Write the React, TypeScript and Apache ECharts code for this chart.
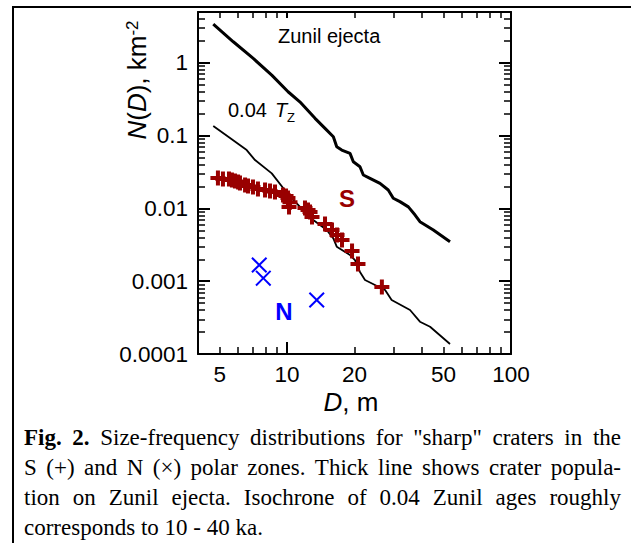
import React, { useEffect, useRef } from 'react';
import * as echarts from 'echarts';

// ---- data ----
const zunilD = [4.68, 5.75, 7.06, 8.54, 10.1, 11.4, 13.33, 14.77, 16.09, 16.66, 17.54, 19.1, 19.76, 21.16, 21.9, 23.46, 26.0, 28.3, 29.8, 31.9, 34.8, 37.3, 39.2, 45.0, 53.4];
const zunilN = [3.41, 1.95, 1.15, 0.679, 0.401, 0.292, 0.173, 0.126, 0.0966, 0.0704, 0.0634, 0.0571, 0.0438, 0.0374, 0.0288, 0.0259, 0.0221, 0.0179, 0.0138, 0.0124, 0.0105, 0.00812, 0.00657, 0.00505, 0.00349];

const isoD = [4.68, 5.56, 6.6, 7.19, 8.54, 9.62, 10.3, 11.04, 12.02, 13.09, 15.03, 16.09, 16.66, 19.1, 20.1, 21.16, 22.28, 25.6, 27.4, 29.3, 35.4, 39.2, 43.5, 53.4];
const isoN = [0.1355, 0.0927, 0.0634, 0.0462, 0.0303, 0.0189, 0.0145, 0.01175, 0.00892, 0.00694, 0.00505, 0.00388, 0.00298, 0.00229, 0.00195, 0.00134, 0.00104, 0.000841, 0.000757, 0.000552, 0.000402, 0.000278, 0.000237, 0.000137];

const southD = [4.91, 5.17, 5.5, 5.67, 5.85, 6.04, 6.16, 6.49, 6.69, 7.04, 7.41, 7.97, 8.39, 8.83, 9.59, 9.89, 10.09, 10.3, 10.2, 12.02, 12.4, 12.66, 12.92, 14.77, 15.87, 16.71, 17.59, 19.5, 20.73, 26.5];
const southN = [0.0262, 0.0253, 0.0253, 0.0245, 0.0238, 0.023, 0.0223, 0.021, 0.0203, 0.0197, 0.0185, 0.0179, 0.0173, 0.0168, 0.0153, 0.0148, 0.0139, 0.0122, 0.0105, 0.0101, 0.00951, 0.00892, 0.00762, 0.00611, 0.00505, 0.00431, 0.00368, 0.0026, 0.00172, 0.000832];

const northD = [7.51, 7.83, 13.56];
const northN = [0.00167, 0.0011, 0.000552];

const xTickValues = [5, 10, 20, 50, 100];
const xTickLabels = ['5', '10', '20', '50', '100'];
const yTickValues = [0.0001, 0.001, 0.01, 0.1, 1];
const yTickLabels = ['0.0001', '0.001', '0.01', '0.1', '1'];

const captionLines = [
  'Fig. 2. Size-frequency distributions for "sharp" craters in the',
  'S (+) and N (\u00d7) polar zones. Thick line shows crater popula-',
  'tion on Zunil ejecta. Isochrone of 0.04 Zunil ages roughly',
  'corresponds to 10 - 40 ka.',
];

// ---- styling ----
const SANS = '"Liberation Sans", Arial, sans-serif';
const SERIF = '"Liberation Serif", "Times New Roman", serif';
const CAP_SIZE = 23;
const CAP_LEFT = 24;
const CAP_RIGHT = 621;
const CAP_Y0 = 437;
const CAP_DY = 30.3;

const PLUS = 'path://M5.5,0H9.5V5.5H15V9.5H9.5V15H5.5V9.5H0V5.5H5.5Z';
const CROSS = 'path://M0,1.4L1.4,0L8,6.6L14.6,0L16,1.4L9.4,8L16,14.6L14.6,16L8,9.4L1.4,16L0,14.6L6.6,8Z';

function pickLabel(values: number[], labels: string[], v: number) {
  for (let i = 0; i < values.length; i++) {
    if (Math.abs(Math.log10(values[i]) - Math.log10(v)) < 1e-6) return labels[i];
  }
  return '';
}

let measureCtx: CanvasRenderingContext2D | null = null;
function measure(text: string, font: string) {
  if (!measureCtx) measureCtx = document.createElement('canvas').getContext('2d');
  measureCtx!.font = font;
  return measureCtx!.measureText(text).width;
}

function captionElements() {
  const els: any[] = [];
  captionLines.forEach((line, li) => {
    const words = line.split(' ');
    const fonts = words.map((_, wi) =>
      li === 0 && wi < 2 ? `bold ${CAP_SIZE}px ${SERIF}` : `${CAP_SIZE}px ${SERIF}`
    );
    const widths = words.map((w, i) => measure(w, fonts[i]));
    const total = widths.reduce((a, b) => a + b, 0);
    const justify = li < captionLines.length - 1;
    const gap = justify
      ? (CAP_RIGHT - CAP_LEFT - total) / (words.length - 1)
      : measure(' ', fonts[0]);
    let x = CAP_LEFT;
    const y = CAP_Y0 + li * CAP_DY;
    words.forEach((w, i) => {
      els.push({
        type: 'text',
        x,
        y,
        style: {
          text: w,
          font: fonts[i],
          fill: '#000',
          align: 'left',
          verticalAlign: 'middle',
        },
      });
      x += widths[i] + gap;
    });
  });
  return els;
}

function axisCommon(extra: any) {
  return {
    type: 'log',
    logBase: 10,
    axisLine: { show: true, onZero: false, lineStyle: { color: '#000', width: 2 } },
    splitLine: { show: false },
    minorSplitLine: { show: false },
    ...extra,
  };
}

function buildOption(): any {
  const labelStyle = { fontSize: 22.5, fontFamily: SANS, color: '#000' };
  return {
    animation: false,
    backgroundColor: '#fff',
    grid: { left: 198, right: 120, top: 12, bottom: 189, containLabel: false },
    xAxis: [
      axisCommon({
        min: 4,
        max: 100,
        position: 'bottom',
        axisTick: { show: true, inside: true, length: 12, lineStyle: { color: '#000', width: 2 } },
        minorTick: { show: true, splitNumber: 9, length: 7, lineStyle: { color: '#000', width: 1.5 } },
        axisLabel: {
          ...labelStyle,
          margin: 9,
          customValues: xTickValues,
          formatter: (v: number) => pickLabel(xTickValues, xTickLabels, v),
        },
      }),
      axisCommon({
        min: 4,
        max: 100,
        position: 'top',
        axisTick: { show: true, inside: true, length: 6, lineStyle: { color: '#000', width: 2 } },
        minorTick: { show: true, splitNumber: 9, length: 6, lineStyle: { color: '#000', width: 1.5 } },
        axisLabel: { show: false },
      }),
    ],
    yAxis: [
      axisCommon({
        min: 0.0001,
        max: 5,
        position: 'left',
        axisTick: { show: true, inside: true, length: 12, lineStyle: { color: '#000', width: 2 } },
        minorTick: { show: true, splitNumber: 9, length: 7, lineStyle: { color: '#000', width: 1.5 } },
        axisLabel: {
          ...labelStyle,
          margin: 10,
          customValues: yTickValues,
          formatter: (v: number) => pickLabel(yTickValues, yTickLabels, v),
        },
      }),
      axisCommon({
        min: 0.0001,
        max: 5,
        position: 'right',
        axisTick: { show: true, inside: true, length: 12, lineStyle: { color: '#000', width: 2 } },
        minorTick: { show: true, splitNumber: 9, length: 7, lineStyle: { color: '#000', width: 1.5 } },
        axisLabel: { show: false },
      }),
    ],
    series: [
      {
        name: 'Zunil ejecta',
        type: 'line',
        data: zunilD.map((d, i) => [d, zunilN[i]]),
        showSymbol: false,
        lineStyle: { color: '#000', width: 3 },
        z: 3,
      },
      {
        name: '0.04 Tz',
        type: 'line',
        data: isoD.map((d, i) => [d, isoN[i]]),
        showSymbol: false,
        lineStyle: { color: '#000', width: 1.8 },
        z: 3,
      },
      {
        name: 'S',
        type: 'scatter',
        data: southD.map((d, i) => [d, southN[i]]),
        symbol: PLUS,
        symbolSize: 15,
        itemStyle: { color: '#990000', opacity: 1 },
        z: 4,
      },
      {
        name: 'N',
        type: 'scatter',
        data: northD.map((d, i) => [d, northN[i]]),
        symbol: CROSS,
        symbolSize: 16,
        itemStyle: { color: '#0000ff', opacity: 1 },
        z: 4,
      },
    ],
    graphic: [
      { type: 'line', shape: { x1: 13, y1: 7, x2: 631, y2: 7 }, style: { stroke: '#000', lineWidth: 2 } },
      { type: 'line', shape: { x1: 13, y1: 6, x2: 13, y2: 543 }, style: { stroke: '#000', lineWidth: 2 } },
      {
        type: 'text', x: 278, y: 36,
        style: { text: 'Zunil ejecta', fontSize: 20, fontFamily: SANS, fill: '#000', align: 'left', verticalAlign: 'middle' },
      },
      {
        type: 'text', x: 228, y: 110,
        style: { text: '0.04', fontSize: 20, fontFamily: SANS, fill: '#000', align: 'left', verticalAlign: 'middle' },
      },
      {
        type: 'text', x: 275, y: 110,
        style: { text: 'T', fontSize: 20, fontStyle: 'italic', fontFamily: SANS, fill: '#000', align: 'left', verticalAlign: 'middle' },
      },
      {
        type: 'text', x: 287, y: 117,
        style: { text: 'Z', fontSize: 13, fontFamily: SANS, fill: '#000', align: 'left', verticalAlign: 'middle' },
      },
      {
        type: 'text', x: 347, y: 198,
        style: { text: 'S', fontSize: 24, fontWeight: 'bold', fontFamily: SANS, fill: '#990000', align: 'center', verticalAlign: 'middle' },
      },
      {
        type: 'text', x: 284, y: 311,
        style: { text: 'N', fontSize: 24, fontWeight: 'bold', fontFamily: SANS, fill: '#0000ff', align: 'center', verticalAlign: 'middle' },
      },
      {
        type: 'text', x: 351, y: 402,
        style: {
          text: '{i|D}{n|, m}',
          fontSize: 26, fontFamily: SANS, fill: '#000', align: 'center', verticalAlign: 'middle',
          rich: {
            i: { fontSize: 26, fontFamily: SANS, fontStyle: 'italic', fill: '#000' },
            n: { fontSize: 26, fontFamily: SANS, fill: '#000' },
          },
        },
      },
      {
        type: 'text', x: 137, y: 80, rotation: Math.PI / 2,
        style: {
          text: '{i|N}{n|(}{i|D}{n|), km}{s|-2}',
          fontSize: 26, fontFamily: SANS, fill: '#000', align: 'center', verticalAlign: 'middle',
          rich: {
            i: { fontSize: 26, fontFamily: SANS, fontStyle: 'italic', fill: '#000' },
            n: { fontSize: 26, fontFamily: SANS, fill: '#000' },
            s: { fontSize: 17, fontFamily: SANS, fill: '#000', verticalAlign: 'top' },
          },
        },
      },
      ...captionElements(),
    ],
  };
}

export default function App() {
  const ref = useRef<HTMLDivElement>(null);
  useEffect(() => {
    const chart = echarts.init(ref.current!, null, { renderer: 'svg' });
    chart.setOption(buildOption());
    return () => chart.dispose();
  }, []);
  return (
    <div
      ref={ref}
      style={{ position: 'fixed', left: 0, top: 0, width: 631, height: 543, background: '#fff' }}
    />
  );
}
